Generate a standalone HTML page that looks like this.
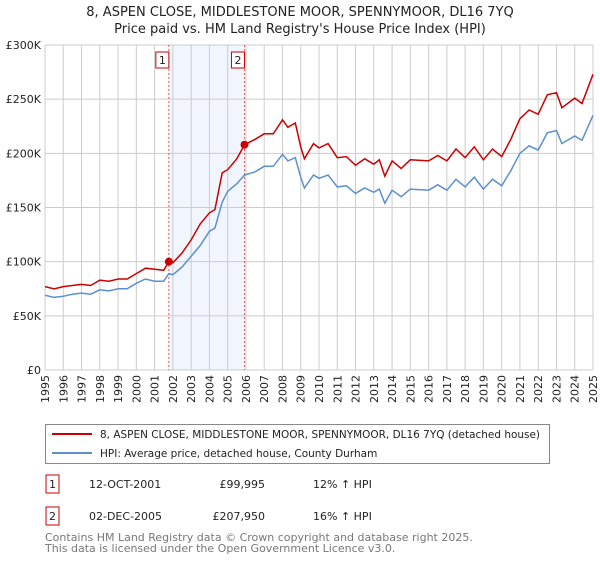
<!DOCTYPE html>
<html><head><meta charset="utf-8"><style>
body{margin:0;background:#fff;font-family:"Liberation Sans","DejaVu Sans",sans-serif;}
svg text{font-family:"DejaVu Sans","Liberation Sans",sans-serif;}
</style></head><body>
<svg id="chart" width="600" height="560" viewBox="0 0 600 560" xmlns="http://www.w3.org/2000/svg">
<text x="300" y="16" text-anchor="middle" font-size="13" fill="#222">8, ASPEN CLOSE, MIDDLESTONE MOOR, SPENNYMOOR, DL16 7YQ</text>
<text x="300" y="33" text-anchor="middle" font-size="13" fill="#222">Price paid vs. HM Land Registry's House Price Index (HPI)</text>
<g id="grid"></g><g id="series"></g><g id="axes"></g>
<rect x="45.5" y="424.5" width="504" height="39" fill="#fff" stroke="#888"/>
<line x1="52" y1="434" x2="92" y2="434" stroke="#cc0000" stroke-width="2"/>
<text x="100" y="438" font-size="10.5" fill="#222" textLength="440" lengthAdjust="spacingAndGlyphs">8, ASPEN CLOSE, MIDDLESTONE MOOR, SPENNYMOOR, DL16 7YQ (detached house)</text>
<line x1="52" y1="453" x2="92" y2="453" stroke="#5b8fd0" stroke-width="2"/>
<text x="100" y="457" font-size="10.5" fill="#222">HPI: Average price, detached house, County Durham</text>
<g font-size="11" fill="#222">
<rect x="46" y="475" width="13" height="18" fill="#fff" stroke="#cc0000"/><text x="52.5" y="488" text-anchor="middle">1</text>
<text x="89" y="488">12-OCT-2001</text><text x="265" y="488" text-anchor="end">£99,995</text><text x="313" y="488">12% ↑ HPI</text></g>
<g font-size="11" fill="#222">
<rect x="46" y="507" width="13" height="18" fill="#fff" stroke="#cc0000"/><text x="52.5" y="520" text-anchor="middle">2</text>
<text x="89" y="520">02-DEC-2005</text><text x="265" y="520" text-anchor="end">£207,950</text><text x="313" y="520">16% ↑ HPI</text></g>
<text x="45" y="541" font-size="11" fill="#777">Contains HM Land Registry data © Crown copyright and database right 2025.</text>
<text x="45" y="552" font-size="11" fill="#777">This data is licensed under the Open Government Licence v3.0.</text>
</svg>
<script>
const years=[1995,1995.5,1996,1996.5,1997,1997.5,1998,1998.5,1999,1999.5,2000,2000.5,2001,2001.5,2001.78,2002,2002.5,2003,2003.5,2004,2004.3,2004.7,2005,2005.5,2005.92,2006.5,2007,2007.5,2008,2008.3,2008.7,2009,2009.2,2009.7,2010,2010.5,2011,2011.5,2012,2012.5,2013,2013.3,2013.6,2014,2014.5,2015,2016,2016.5,2017,2017.5,2018,2018.5,2019,2019.5,2020,2020.5,2021,2021.5,2022,2022.5,2023,2023.3,2024,2024.4,2025];
const hpi=[69,67,68,70,71,70,74,73,75,75,80,84,82,82,89,88,95,105,115,128,131,155,165,172,180,183,188,188,199,193,196,178,168,180,177,180,169,170,163,168,164,167,154,166,160,167,166,171,166,176,169,178,167,176,170,184,200,207,203,219,221,209,216,212,235];
const price=[77,75,77,78,79,78,83,82,84,84,89,94,93,92,100,99,108,120,135,145,148,182,185,195,208,213,218,218,231,224,228,206,195,209,205,209,196,197,189,195,190,194,179,193,186,194,193,198,193,204,196,206,194,204,197,213,232,240,236,254,256,242,251,246,273];
const yTicks=[0,50,100,150,200,250,300];
const yTickLabels=["£0","£50K","£100K","£150K","£200K","£250K","£300K"];
const sales=[{year:2001.78,value:99.995,label:"1"},{year:2005.92,value:207.95,label:"2"}];
const X0=45,X1=593,Y0=370,Y1=45;
const xs=y=>X0+(y-1995)*(X1-X0)/30;
const ys=v=>Y0-v*(Y0-Y1)/300;
const NS="http://www.w3.org/2000/svg";
function mk(tag,attrs,parent,txt){const e=document.createElementNS(NS,tag);for(const k in attrs)e.setAttribute(k,attrs[k]);if(txt!==undefined)e.textContent=txt;parent.appendChild(e);return e;}
const grid=document.getElementById('grid'),ser=document.getElementById('series'),ax=document.getElementById('axes');
const band=mk('rect',{x:xs(sales[0].year),y:Y1,width:xs(sales[1].year)-xs(sales[0].year),height:Y0-Y1,fill:'#eef3fc',opacity:0.8},grid);


for(let yr=1995;yr<=2025;yr++){const l=mk('line',{x1:xs(yr),x2:xs(yr),y1:Y1,y2:Y0,stroke:'#ccc','stroke-width':1},grid);


const t=mk('text',{x:0,y:0,'font-size':11,fill:'#222','text-anchor':'end',transform:`translate(${xs(yr)+4},${Y0+5}) rotate(-90)`},ax,String(yr));

}
yTicks.forEach((v,i)=>{const l=mk('line',{x1:X0,x2:X1,y1:ys(v),y2:ys(v),stroke:'#ccc','stroke-width':1},grid);


const t=mk('text',{x:X0-4,y:ys(v)+4,'font-size':11,fill:'#222','text-anchor':'end'},ax,yTickLabels[i]);

});
sales.forEach(s=>{const l=mk('line',{x1:xs(s.year),x2:xs(s.year),y1:Y1,y2:Y0,stroke:'#e55','stroke-width':1,'stroke-dasharray':'2,2'},grid);


const r=mk('rect',{x:xs(s.year)-13,y:52,width:13,height:16,fill:'#fff',stroke:'#cc0000'},ax);


mk('text',{x:xs(s.year)-6.5,y:64,'font-size':11,fill:'#222','text-anchor':'middle'},ax,s.label);});
function path(vals){return vals.map((v,i)=>(i?'L':'M')+xs(years[i]).toFixed(1)+','+ys(v).toFixed(1)).join('');}
const ph=mk('path',{d:path(hpi),fill:'none',stroke:'#5b8fd0','stroke-width':1.5},ser);


const pp=mk('path',{d:path(price),fill:'none',stroke:'#cc0000','stroke-width':1.5},ser);


sales.forEach(s=>{const c=mk('circle',{cx:xs(s.year),cy:ys(s.value),r:4,fill:'#cc0000'},ser);

});
</script>
</body></html>
